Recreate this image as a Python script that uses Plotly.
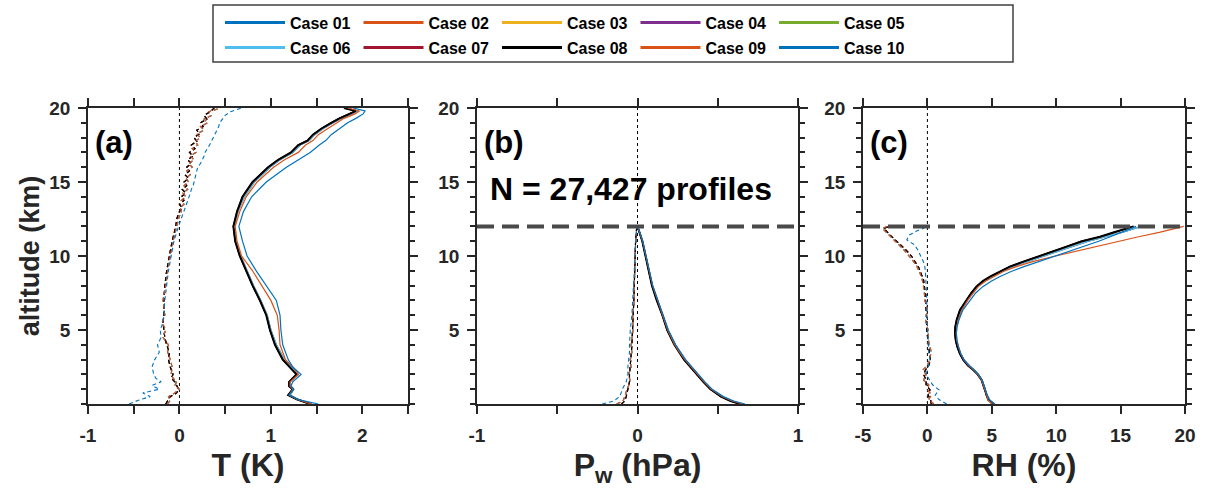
import plotly.graph_objects as go

# ---------------- data ----------------
CASES = ["Case 01", "Case 02", "Case 03", "Case 04", "Case 05",
         "Case 06", "Case 07", "Case 08", "Case 09", "Case 10"]
COLORS = ["#0072BD", "#D95319", "#EDB120", "#7E2F8E", "#77AC30",
          "#4DBEEE", "#A2142F", "#000000", "#D95319", "#0072BD"]
# which read profile each case follows (A = main bundle, B = slightly offset bundle, C09/C10 = outliers)
GROUP = ["B", "B", "A", "A", "A", "B", "A", "A", "C09", "C10"]

# ---- panel (a): temperature, solid = std, dashed = bias ----
ALT_TS = [0.0, 0.3, 0.6, 1.0, 1.2, 1.5, 2.0, 2.5, 3.0, 4.0, 5.0, 6.0, 7.0, 8.0, 9.0,
          10.0, 11.0, 12.0, 13.0, 14.0, 15.0, 16.0, 16.5, 17.0, 17.5, 17.8, 18.2,
          18.6, 19.0, 19.3, 19.6, 19.8, 20.0]
T_STD_A = [1.43, 1.29, 1.19, 1.24, 1.20, 1.20, 1.28, 1.21, 1.13, 1.045, 0.99, 0.95, 0.88,
           0.80, 0.73, 0.66, 0.61, 0.59, 0.63, 0.69, 0.80, 0.97, 1.08, 1.22, 1.30, 1.40,
           1.46, 1.55, 1.66, 1.75, 1.86, 1.93, 1.80]
T_STD_B = [1.45, 1.30, 1.21, 1.25, 1.22, 1.21, 1.30, 1.22, 1.15, 1.06, 1.00, 0.96, 0.89,
           0.81, 0.74, 0.67, 0.62, 0.60, 0.64, 0.71, 0.82, 0.99, 1.10, 1.24, 1.32, 1.42,
           1.48, 1.57, 1.68, 1.77, 1.88, 1.95, 1.82]
T_STD_C09 = [1.44, 1.29, 1.20, 1.24, 1.21, 1.21, 1.30, 1.24, 1.16, 1.10, 1.09, 1.07, 1.00,
             0.90, 0.80, 0.68, 0.63, 0.61, 0.66, 0.73, 0.85, 1.03, 1.15, 1.30, 1.38, 1.46,
             1.52, 1.62, 1.72, 1.80, 1.92, 1.97, 1.84]
T_STD_C10 = [1.52, 1.30, 1.20, 1.25, 1.22, 1.24, 1.33, 1.24, 1.19, 1.13, 1.11, 1.10, 1.06,
             0.95, 0.84, 0.74, 0.69, 0.65, 0.70, 0.79, 0.95, 1.17, 1.30, 1.43, 1.53, 1.60,
             1.66, 1.75, 1.84, 1.93, 2.01, 2.03, 1.90]

ALT_TD = [0.0, 0.25, 0.5, 0.75, 1.0, 1.25, 1.5, 1.75, 2.0, 2.5, 3.0, 3.5, 4.0, 4.5, 5.0,
          5.5, 6.0, 7.0, 8.0, 9.0, 10.0, 11.0, 12.0, 12.5, 13.0, 13.25, 13.5, 13.75, 14.0,
          14.25, 14.5, 14.75, 15.0, 15.25, 15.5, 15.75, 16.0, 16.25, 16.5, 16.75, 17.0,
          17.25, 17.5, 17.75, 18.0, 18.25, 18.5, 18.75, 19.0, 19.25, 19.5, 19.75, 20.0]
T_BIAS_A = [-0.15, -0.12, -0.10, -0.03, -0.01, -0.03, -0.05, -0.09, -0.07, -0.10, -0.12,
            -0.11, -0.14, -0.16, -0.17, -0.18, -0.17, -0.17, -0.16, -0.14, -0.11, -0.08,
            -0.04, -0.03, 0.00, 0.03, 0.00, 0.05, 0.02, 0.07, 0.03, 0.08, 0.05, 0.10, 0.06,
            0.11, 0.08, 0.13, 0.09, 0.15, 0.11, 0.17, 0.13, 0.19, 0.16, 0.22, 0.19, 0.26,
            0.23, 0.30, 0.27, 0.34, 0.38]
T_BIAS_B = [-0.13, -0.10, -0.12, -0.05, 0.00, -0.05, -0.03, -0.07, -0.09, -0.08, -0.10,
            -0.13, -0.12, -0.18, -0.15, -0.19, -0.16, -0.18, -0.15, -0.13, -0.10, -0.07,
            -0.03, -0.01, 0.02, 0.01, 0.05, 0.02, 0.07, 0.04, 0.09, 0.05, 0.10, 0.07, 0.12,
            0.08, 0.14, 0.10, 0.16, 0.12, 0.18, 0.14, 0.20, 0.17, 0.23, 0.19, 0.27, 0.23,
            0.31, 0.27, 0.35, 0.32, 0.45]
T_BIAS_C10 = [-0.55, -0.45, -0.32, -0.40, -0.22, -0.30, -0.20, -0.26, -0.28, -0.30, -0.27,
              -0.22, -0.24, -0.20, -0.21, -0.18, -0.17, -0.16, -0.14, -0.12, -0.09, -0.06,
              -0.01, 0.02, 0.05, 0.06, 0.08, 0.09, 0.11, 0.12, 0.13, 0.15, 0.16, 0.17, 0.18,
              0.19, 0.20, 0.23, 0.25, 0.27, 0.28, 0.31, 0.33, 0.35, 0.37, 0.39, 0.41, 0.43,
              0.44, 0.47, 0.50, 0.56, 0.68]

# ---- panel (b): water vapour pressure ----
ALT_P = [0.0, 0.2, 0.5, 1.0, 1.5, 2.0, 2.5, 3.0, 3.5, 4.0, 5.0, 6.0, 7.0, 8.0, 9.0,
         10.0, 11.0, 11.5, 12.0]
P_STD_A = [0.64, 0.58, 0.52, 0.455, 0.41, 0.37, 0.33, 0.29, 0.26, 0.23, 0.185, 0.155,
           0.12, 0.09, 0.07, 0.05, 0.03, 0.015, 0.0]
P_STD_B = [0.65, 0.59, 0.525, 0.46, 0.415, 0.375, 0.335, 0.295, 0.265, 0.235, 0.19, 0.158,
           0.123, 0.093, 0.072, 0.052, 0.031, 0.016, 0.0]
P_STD_C09 = [0.655, 0.59, 0.53, 0.46, 0.415, 0.375, 0.335, 0.295, 0.262, 0.232, 0.188,
             0.158, 0.124, 0.094, 0.073, 0.053, 0.032, 0.016, 0.0]
P_STD_C10 = [0.67, 0.60, 0.535, 0.465, 0.42, 0.38, 0.34, 0.30, 0.268, 0.238, 0.192, 0.16,
             0.125, 0.095, 0.074, 0.054, 0.033, 0.017, 0.0]
P_BIAS_A = [-0.10, -0.08, -0.07, -0.06, -0.05, -0.05, -0.045, -0.04, -0.038, -0.035, -0.03,
            -0.026, -0.023, -0.02, -0.018, -0.016, -0.012, -0.008, -0.005]
P_BIAS_B = [-0.13, -0.09, -0.08, -0.065, -0.045, -0.055, -0.04, -0.045, -0.035, -0.04,
            -0.028, -0.03, -0.02, -0.022, -0.016, -0.018, -0.01, -0.009, -0.004]
P_BIAS_C10 = [-0.22, -0.15, -0.11, -0.095, -0.07, -0.06, -0.06, -0.055, -0.05, -0.05,
              -0.045, -0.035, -0.03, -0.025, -0.02, -0.018, -0.012, -0.008, -0.005]

# ---- panel (c): relative humidity ----
ALT_R = [0.0, 0.27, 0.6, 0.95, 1.3, 1.62, 2.0, 2.3, 2.6, 2.97, 3.4, 3.87, 4.3, 4.78, 5.2,
         5.68, 6.35, 7.03, 7.5, 7.93, 8.3, 8.6, 8.95, 9.28, 9.6, 9.95, 10.3, 10.63, 11.0,
         11.3, 11.6, 11.87, 12.0]
RH_STD_A = [5.1, 4.73, 4.6, 4.47, 4.35, 4.2, 3.9, 3.57, 3.15, 2.79, 2.52, 2.32, 2.2, 2.14,
            2.16, 2.27, 2.53, 3.05, 3.4, 3.8, 4.3, 4.86, 5.6, 6.4, 7.4, 8.5, 9.6, 10.8, 12.0,
            13.4, 14.5, 15.5, 16.0]
RH_STD_B = [5.0, 4.8, 4.55, 4.5, 4.4, 4.25, 3.95, 3.62, 3.2, 2.85, 2.58, 2.38, 2.26, 2.2,
            2.22, 2.33, 2.6, 3.12, 3.48, 3.9, 4.42, 5.0, 5.75, 6.6, 7.65, 8.8, 9.95, 11.2,
            12.5, 13.9, 15.1, 16.1, 16.6]
RH_STD_C09 = [5.05, 4.7, 4.6, 4.45, 4.35, 4.2, 3.9, 3.6, 3.2, 2.85, 2.58, 2.4, 2.28, 2.24,
              2.28, 2.4, 2.68, 3.15, 3.55, 3.95, 4.5, 5.1, 5.9, 6.9, 8.1, 9.7, 11.4, 13.1,
              15.0, 16.4, 18.0, 19.3, 19.9]
RH_STD_C10 = [5.25, 4.85, 4.65, 4.5, 4.4, 4.25, 3.95, 3.6, 3.2, 2.85, 2.6, 2.4, 2.3, 2.25,
              2.3, 2.45, 2.75, 3.3, 3.75, 4.3, 4.95, 5.6, 6.5, 7.5, 8.6, 9.8, 11.0, 12.2,
              13.3, 14.2, 15.1, 15.9, 16.2]

ALT_RD = [0.0, 0.3, 0.6, 0.95, 1.3, 1.62, 2.0, 2.3, 2.6, 2.97, 3.5, 4.2, 5.0, 5.68, 6.35,
          7.03, 7.7, 8.4, 8.9, 9.28, 9.6, 9.95, 10.35, 10.75, 11.1, 11.42, 11.7, 11.87, 12.0]
RH_BIAS_A = [0.3, 0.25, 0.05, 0.2, -0.1, -0.1, -0.3, -0.15, 0.1, 0.25, 0.15, 0.07, -0.05,
             -0.05, -0.1, -0.1, -0.2, -0.3, -0.5, -0.7, -0.95, -1.2, -1.6, -2.1, -2.5, -2.9,
             -3.2, -3.4, -2.9]
RH_BIAS_B = [0.5, 0.1, 0.3, 0.05, 0.1, -0.3, -0.1, -0.35, 0.0, 0.15, 0.3, 0.1, 0.05,
             -0.15, 0.0, -0.2, -0.25, -0.4, -0.6, -0.8, -1.05, -1.35, -1.75, -2.2, -2.6,
             -3.0, -3.3, -3.5, -3.1]
RH_BIAS_C10 = [1.5, 0.9, 0.6, 0.9, 0.4, 0.2, -0.1, 0.0, 0.1, 0.2, 0.1, 0.05, 0.0, -0.05,
               -0.05, -0.05, -0.08, -0.1, -0.15, -0.2, -0.3, -0.5, -0.7, -1.0, -1.6, -1.4,
               -0.8, -0.3, -0.2]

AXIS_A_TICKS = [-1, 0, 1, 2]
AXIS_A_LABELS = ["-1", "0", "1", "2"]
AXIS_B_TICKS = [-1, 0, 1]
AXIS_B_LABELS = ["-1", "0", "1"]
AXIS_C_TICKS = [-5, 0, 5, 10, 15, 20]
AXIS_C_LABELS = ["-5", "0", "5", "10", "15", "20"]
Y_TICKS = [5, 10, 15, 20]
Y_LABELS = ["5", "10", "15", "20"]

PANELS = [
    dict(alt_s=ALT_TS, alt_d=ALT_TD,
         std={"A": T_STD_A, "B": T_STD_B, "C09": T_STD_C09, "C10": T_STD_C10},
         bias={"A": T_BIAS_A, "B": T_BIAS_B, "C09": T_BIAS_B, "C10": T_BIAS_C10}),
    dict(alt_s=ALT_P, alt_d=ALT_P,
         std={"A": P_STD_A, "B": P_STD_B, "C09": P_STD_C09, "C10": P_STD_C10},
         bias={"A": P_BIAS_A, "B": P_BIAS_B, "C09": P_BIAS_B, "C10": P_BIAS_C10}),
    dict(alt_s=ALT_R, alt_d=ALT_RD,
         std={"A": RH_STD_A, "B": RH_STD_B, "C09": RH_STD_C09, "C10": RH_STD_C10},
         bias={"A": RH_BIAS_A, "B": RH_BIAS_B, "C09": RH_BIAS_B, "C10": RH_BIAS_C10}),
]

# ---------------- figure ----------------
W, H = 1207, 499
FONT = "Liberation Sans, Arial, sans-serif"
AX = "#262626"

def px_x(p):
    return p / W

def px_y(p):
    return (H - p) / H

fig = go.Figure()

xnames = ["x", "x2", "x3"]
ynames = ["y", "y2", "y3"]

for pi, panel in enumerate(PANELS):
    for ci, case in enumerate(CASES):
        g = GROUP[ci]
        col = COLORS[ci]
        fig.add_trace(go.Scatter(
            x=panel["bias"][g], y=panel["alt_d"], mode="lines",
            line=dict(color=col, width=1.1, dash="4px,3px"),
            xaxis=xnames[pi], yaxis=ynames[pi], showlegend=False, hoverinfo="skip"))
    for ci, case in enumerate(CASES):
        g = GROUP[ci]
        col = COLORS[ci]
        fig.add_trace(go.Scatter(
            x=panel["std"][g], y=panel["alt_s"], mode="lines",
            line=dict(color=col, width=2.0 if col == "#000000" else 1.2),
            xaxis=xnames[pi], yaxis=ynames[pi], showlegend=False, hoverinfo="skip"))

# legend entries (two rows of five)
for ci, case in enumerate(CASES):
    fig.add_trace(go.Scatter(
        x=[None], y=[None], mode="lines", name=case,
        line=dict(color=COLORS[ci], width=3),
        legend="legend" if ci < 5 else "legend2", showlegend=True))

doms_x = [(88, 408), (477, 798), (863, 1185)]
ranges = [(-1, 2.5), (-1, 1), (-5, 20)]
tickv = [AXIS_A_TICKS, AXIS_B_TICKS, AXIS_C_TICKS]
tickt = [AXIS_A_LABELS, AXIS_B_LABELS, AXIS_C_LABELS]
minor_dt = [0.5, 0.5, None]
titles = ["T (K)", "P<sub>w</sub> (hPa)", "RH (%)"]

tickfont = dict(family=FONT, size=19, color=AX, weight="bold")
titlefont = dict(family=FONT, size=32, color=AX, weight="bold")

layout = dict(
    width=W, height=H,
    margin=dict(l=0, r=0, t=0, b=0, autoexpand=False),
    paper_bgcolor="white", plot_bgcolor="white",
    showlegend=True,
)
for i in range(3):
    xk = "xaxis" if i == 0 else f"xaxis{i+1}"
    yk = "yaxis" if i == 0 else f"yaxis{i+1}"
    xa = dict(
        domain=[px_x(doms_x[i][0]), px_x(doms_x[i][1])],
        anchor=ynames[i], range=list(ranges[i]),
        tickmode="array", tickvals=tickv[i], ticktext=tickt[i],
        ticks="outside", ticklen=8, tickwidth=1.5, tickcolor=AX,
        showline=True, linewidth=1.5, linecolor=AX, mirror="ticks",
        showgrid=False, zeroline=False, tickfont=tickfont,
        ticklabelstandoff=5,
        title=dict(text=titles[i], font=titlefont, standoff=9),
    )
    if minor_dt[i]:
        xa["minor"] = dict(dtick=minor_dt[i], tick0=0, ticks="outside", ticklen=8,
                           tickwidth=1.5, tickcolor=AX)
    layout[xk] = xa
    layout[yk] = dict(
        domain=[px_y(404), px_y(108)],
        anchor=xnames[i], range=[0, 20],
        tickmode="array", tickvals=Y_TICKS, ticktext=Y_LABELS,
        ticks="outside", ticklen=8, tickwidth=1.5, tickcolor=AX,
        minor=dict(dtick=1, tick0=0, ticks="outside", ticklen=5, tickwidth=1.5, tickcolor=AX),
        showline=True, linewidth=1.5, linecolor=AX, mirror="ticks",
        showgrid=False, zeroline=False, tickfont=tickfont,
        ticklabelstandoff=4,
    )
layout["yaxis"]["title"] = dict(text="altitude (km)",
                                font=dict(family=FONT, size=27, color=AX, weight="bold"),
                                standoff=2)

legfont = dict(family=FONT, size=16, color="black", weight="bold")
for key, ypx in (("legend", 22.7), ("legend2", 47.7)):
    layout[key] = dict(orientation="h", xref="container", yref="container",
                       x=px_x(220), xanchor="left", y=px_y(ypx), yanchor="middle",
                       font=legfont, itemwidth=60, entrywidth=63.5,
                       bgcolor="rgba(0,0,0,0)", borderwidth=0, traceorder="normal",
                       itemclick=False, itemdoubleclick=False)
fig.update_layout(**layout)

shapes = []
# legend frame
shapes.append(dict(type="rect", xref="paper", yref="paper",
                   x0=px_x(213), x1=px_x(1013), y0=px_y(62), y1=px_y(5),
                   line=dict(color="#404040", width=1.5), fillcolor="rgba(0,0,0,0)"))
for i in range(3):
    shapes.append(dict(type="line", xref=xnames[i], yref=f"{ynames[i]} domain",
                       x0=0, x1=0, y0=0, y1=1,
                       line=dict(color="black", width=1, dash="3px,3px"), layer="below"))
for i in (1, 2):
    shapes.append(dict(type="line", xref=f"{xnames[i]} domain", yref=ynames[i],
                       x0=0, x1=1, y0=12, y1=12,
                       line=dict(color="#4a4a4a", width=4, dash="17px,8px")))
fig.update_layout(shapes=shapes)

ann_font = dict(family=FONT, size=31, color="black", weight="bold")
for lab, x0 in (("(a)", 93), ("(b)", 482), ("(c)", 868)):
    fig.add_annotation(text=lab, xref="paper", yref="paper", x=px_x(x0), y=px_y(143),
                       xanchor="left", yanchor="middle", showarrow=False, font=ann_font)
fig.add_annotation(text="N = 27,427 profiles", xref="paper", yref="paper",
                   x=px_x(631), y=px_y(189), xanchor="center", yanchor="middle",
                   showarrow=False, font=dict(family=FONT, size=32, color="black", weight="bold"))

fig.write_html("out.html", config={"displayModeBar": False},
               post_script="document.body.style.margin='0px';document.body.style.overflow='hidden';")
